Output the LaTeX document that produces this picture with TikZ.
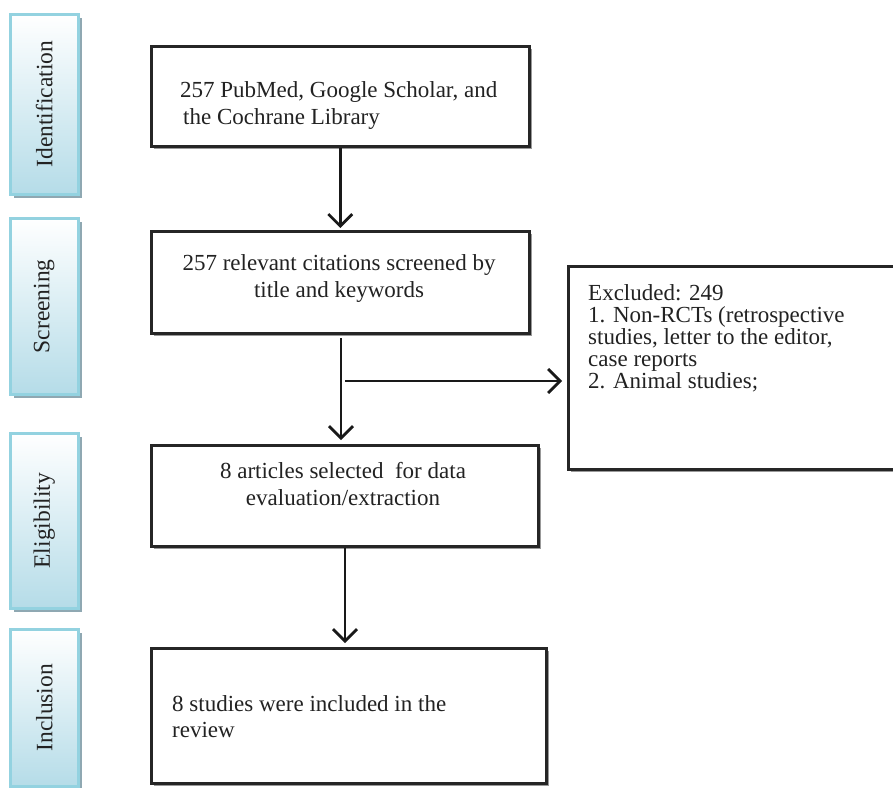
\documentclass[tikz,border=0pt]{standalone}
\usepackage{fontspec}
\setmainfont{Liberation Serif}
\usetikzlibrary{arrows.meta,shadows}
\definecolor{sideborder}{HTML}{93D2E0}
\definecolor{sidefill}{HTML}{B5DCE8}
\definecolor{sideshadow}{HTML}{8FA8B2}
\definecolor{txt}{HTML}{222222}
\begin{document}
\begin{tikzpicture}[x=1pt,y=-1pt,
  mainbox/.style={draw=black!85, line width=2.5pt, fill=white, anchor=north west, inner sep=0pt,
    drop shadow={shadow xshift=3pt, shadow yshift=-3pt, fill=black!40, opacity=1}},
  sidebox/.style={draw=sideborder, line width=2.5pt, top color=white, bottom color=sidefill,
    anchor=north west, inner sep=0pt, minimum width=68pt,
    drop shadow={shadow xshift=4pt, shadow yshift=-4pt, fill=sideshadow, opacity=1}},
  sidetext/.style={rotate=90, text=txt, font=\fontsize{23.5}{27}\selectfont},
  boxtext/.style={text=txt, inner sep=0pt, font=\fontsize{23}{27}\selectfont},
  arr/.style={line width=2.8pt, draw=black!90, -{Straight Barb[length=12pt,width=24pt,line width=2.8pt]}}]
\useasboundingbox (0,0) rectangle (893,787);
\fill[white] (0,0) rectangle (893,787);

% side boxes
\node[sidebox, minimum height=180pt] (s1) at (9,13) {};
\node[sidetext] (t1) at (s1.center) {Identification};
\node[sidebox, minimum height=176pt] (s2) at (9,217) {};
\node[sidetext] (t2) at (s2.center) {Screening};
\node[sidebox, minimum height=175pt] (s3) at (9,432) {};
\node[sidetext] (t3) at (s3.center) {Eligibility};
\node[sidebox, minimum height=157pt] (s4) at (9,628) {};
\node[sidetext] (t4) at (s4.center) {Inclusion};

% main boxes
\node[mainbox, minimum width=378pt, minimum height=100pt] (b1) at (150,45) {};
\node[boxtext, align=left, anchor=north west] (l1) at (180,81) {257 PubMed, Google Scholar, and\\\hspace{3pt}the Cochrane Library};

\node[mainbox, minimum width=378pt, minimum height=102pt] (b2) at (150,230) {};
\node[boxtext, align=center, anchor=north] (l2) at (339,254) {257 relevant citations screened by\\title and keywords};

\node[mainbox, minimum width=340pt, minimum height=203pt] (b3) at (567,265) {};
\node[boxtext, align=left, anchor=north west, font=\fontsize{23}{22}\selectfont] (l3) at (588,284)
  {Excluded: 249\\1. Non-RCTs (retrospective\\studies, letter to the editor,\\case reports\\2. Animal studies;};

\node[mainbox, minimum width=387pt, minimum height=101pt] (b4) at (150,444) {};
\node[boxtext, align=center, anchor=north] (l4) at (343,462) {8 articles selected\ \ for data\\evaluation/extraction};

\node[mainbox, minimum width=395pt, minimum height=135pt] (b5) at (150,647) {};
\node[boxtext, align=left, anchor=north west, font=\fontsize{23}{26}\selectfont] (l5) at (172,695) {8 studies were included in the\\review};

% connectors
\coordinate (a1e) at (339,228);
\draw[arr] (b1.south) -- (b1.south |- a1e);
\coordinate (a2s) at (341,338);
\coordinate (a2e) at (341,440);
\draw[arr] (a2s) -- (a2e);
\coordinate (j) at (345,381);
\draw[arr, shorten >=5pt] (j) -- (j -| b3.west);
\coordinate (a3e) at (345,643);
\draw[arr] (b4.south -| a3e) -- (a3e);
\end{tikzpicture}
\end{document}
